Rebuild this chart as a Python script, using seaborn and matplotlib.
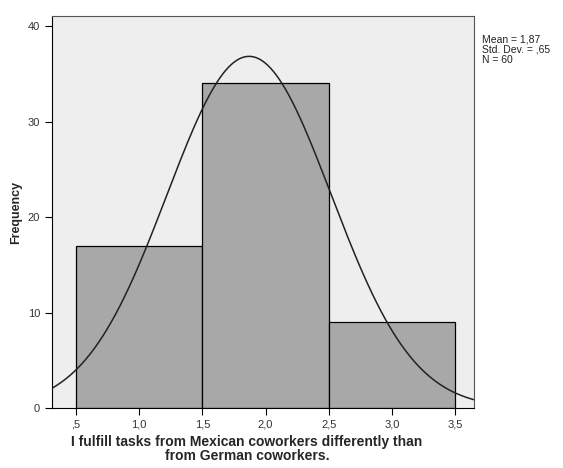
import numpy as np
import matplotlib
matplotlib.use("Agg")
import matplotlib.pyplot as plt
import seaborn as sns

sns.set_style("white")
plt.rcParams['font.family'] = ['Liberation Sans', 'DejaVu Sans']

bin_centers = [1.0, 2.0, 3.0]
counts = [17, 34, 9]
bin_edges = [0.5, 1.5, 2.5, 3.5]
mean, sd, n = 1.87, 0.65, 60
x_ticks = [0.5, 1.0, 1.5, 2.0, 2.5, 3.0, 3.5]
x_ticklabels = [",5", "1,0", "1,5", "2,0", "2,5", "3,0", "3,5"]
y_ticks = [0, 10, 20, 30, 40]

fig = plt.figure(figsize=(5.63, 4.68), dpi=100)
ax = fig.add_axes([52/563, 60/468, 422/563, 392/468])
ax.set_facecolor("#eeeeee")

sns.histplot(x=bin_centers, weights=counts, bins=bin_edges, ax=ax,
             color="#a8a8a8", edgecolor="black", linewidth=0.9, alpha=1.0)

xs = np.linspace(0.31, 3.65, 300)
ys = n * 1.0 * np.exp(-0.5 * ((xs - mean) / sd) ** 2) / (sd * np.sqrt(2 * np.pi))
sns.lineplot(x=xs, y=ys, ax=ax, color="#222222", linewidth=1.1)

ax.set_xlim(0.31, 3.65)
ax.set_ylim(0, 41.05)
ax.set_xticks(x_ticks)
ax.set_xticklabels(x_ticklabels, fontsize=8, color="#333333")
ax.set_yticks(y_ticks)
ax.set_yticklabels([str(v) for v in y_ticks], fontsize=8, color="#333333")
ax.tick_params(axis="both", direction="out", length=5, width=0.8, color="black", bottom=True, left=True)
for s in ax.spines.values():
    s.set_color("#555555")
    s.set_linewidth(0.8)
ax.spines['left'].set_color("black")
ax.spines['bottom'].set_color("black")

ax.set_ylabel("Frequency", fontsize=9, fontweight="bold")
ax.set_xlabel("I fulfill tasks from Mexican coworkers differently than\nfrom German coworkers.",
              fontsize=10, fontweight="bold", linespacing=1.0)
ax.xaxis.set_label_coords((247 - 52) / 422, -0.07)
ax.xaxis.label.set_va("top")

fig.text(482/563, 1 - 35/468, "Mean = 1,87\nStd. Dev. = ,65\nN = 60",
         fontsize=7.5, va="top", ha="left", linespacing=1.0, color="#222222")

fig.savefig("out.png", dpi=100, facecolor="white")
